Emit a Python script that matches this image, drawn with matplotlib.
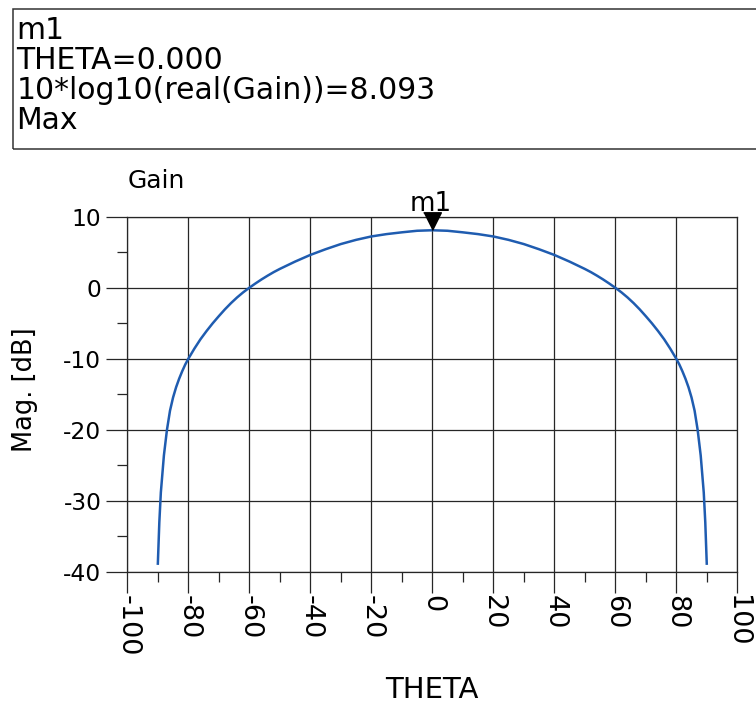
import matplotlib
matplotlib.use("Agg")
import matplotlib.pyplot as plt
from matplotlib.patches import Rectangle
from matplotlib.ticker import MultipleLocator

plt.rcParams["font.family"] = ["DejaVu Sans"]
plt.rcParams["axes.unicode_minus"] = False

# Antenna gain pattern versus elevation angle
theta = [-90, -89.5, -89, -88, -87, -86, -85, -84, -83, -82, -81, -80, -78, -76, -74, -72,
         -70, -68, -66, -64, -62, -60, -58, -56, -54, -52, -50,
         -45, -40, -35, -30, -25, -20, -15, -10, -5, 0,
         5, 10, 15, 20, 25, 30, 35, 40, 45,
         50, 52, 54, 56, 58, 60, 62, 64, 66, 68, 70,
         72, 74, 76, 78, 80, 81, 82, 83, 84, 85, 86, 87, 88, 89, 89.5, 90]
gain_db = [-39.0, -33.0, -28.8, -23.6, -20.0, -17.3, -15.45, -14.0, -12.8, -11.75, -10.8, -10.0, -8.56, -7.24, -6.08, -5.0,
           -4.0, -3.04, -2.16, -1.36, -0.64, 0.0, 0.6, 1.17, 1.7, 2.2, 2.65,
           3.68, 4.62, 5.42, 6.15, 6.74, 7.22, 7.55, 7.8, 8.02, 8.093,
           8.02, 7.8, 7.55, 7.22, 6.74, 6.15, 5.42, 4.62, 3.68,
           2.65, 2.2, 1.7, 1.17, 0.6, 0.0, -0.64, -1.36, -2.16, -3.04, -4.0,
           -5.0, -6.08, -7.24, -8.56, -10.0, -10.8, -11.75, -12.8, -14.0, -15.45, -17.3, -20.0, -23.6, -28.8, -33.0, -39.0]

marker_name = "m1"
marker_theta = 0.0
marker_gain = 8.093
header_lines = [marker_name, "THETA=0.000", "10*log10(real(Gain))=8.093", "Max"]

W, H = 756, 706
fig = plt.figure(figsize=(W / 100, H / 100), dpi=100)

def fx(px):
    return px / W

def fy(py):
    return 1 - py / H

grid_col = "#262626"
ax = fig.add_axes([fx(127.3), fy(572.0), fx(737.3) - fx(127.3), fy(216.7) - fy(572.0)])
ax.set_xlim(-100, 100)
ax.set_ylim(-40, 10)
ax.xaxis.set_major_locator(MultipleLocator(20))
ax.xaxis.set_minor_locator(MultipleLocator(10))
ax.yaxis.set_major_locator(MultipleLocator(10))
ax.yaxis.set_minor_locator(MultipleLocator(5))
ax.grid(True, which="major", color=grid_col, linewidth=0.9)
ax.set_axisbelow(True)
for sp in ax.spines.values():
    sp.set_color(grid_col)
    sp.set_linewidth(0.9)
ax.tick_params(which="major", direction="out", length=15.1, width=0.9, color=grid_col)
ax.tick_params(which="minor", direction="out", length=7.2, width=0.9, color=grid_col)
ax.tick_params(axis="y", which="major", labelsize=16.8, pad=3.6)
ax.tick_params(axis="x", which="major", labelsize=19.5, pad=1.5, labelrotation=-90)

ax.plot(theta, gain_db, color="#1f5cb0", linewidth=1.8, solid_capstyle="butt")

# marker triangle with its tip on the peak
ax.plot([marker_theta], [marker_gain], marker=[(-0.5, 1), (0.5, 1), (0, 0)],
        markersize=25.5, color="black", linestyle="none", clip_on=False, zorder=5)
ax.annotate(marker_name, xy=(marker_theta, marker_gain), xytext=(-1, 14),
            textcoords="offset points", ha="center", va="baseline", fontsize=18.8)

fig.text(fx(128), fy(188.3), "Gain", fontsize=18, ha="left", va="baseline")
fig.text(fx(25), fy(390), "Mag. [dB]", fontsize=18.5, rotation=90, ha="center", va="center")
fig.text(fx(432), fy(690), "THETA", fontsize=21, ha="center", va="center")

# marker readout box
fig.patches.append(Rectangle((fx(13.3), fy(149)), fx(760) - fx(13.3), fy(9) - fy(149),
                             transform=fig.transFigure, fill=False, edgecolor="#333333",
                             linewidth=1.1, clip_on=False))
for i, line in enumerate(header_lines):
    fig.text(fx(16.5), fy(39.3 + 30 * i), line, fontsize=21.5, ha="left", va="baseline")

fig.savefig("out.png", dpi=100)
